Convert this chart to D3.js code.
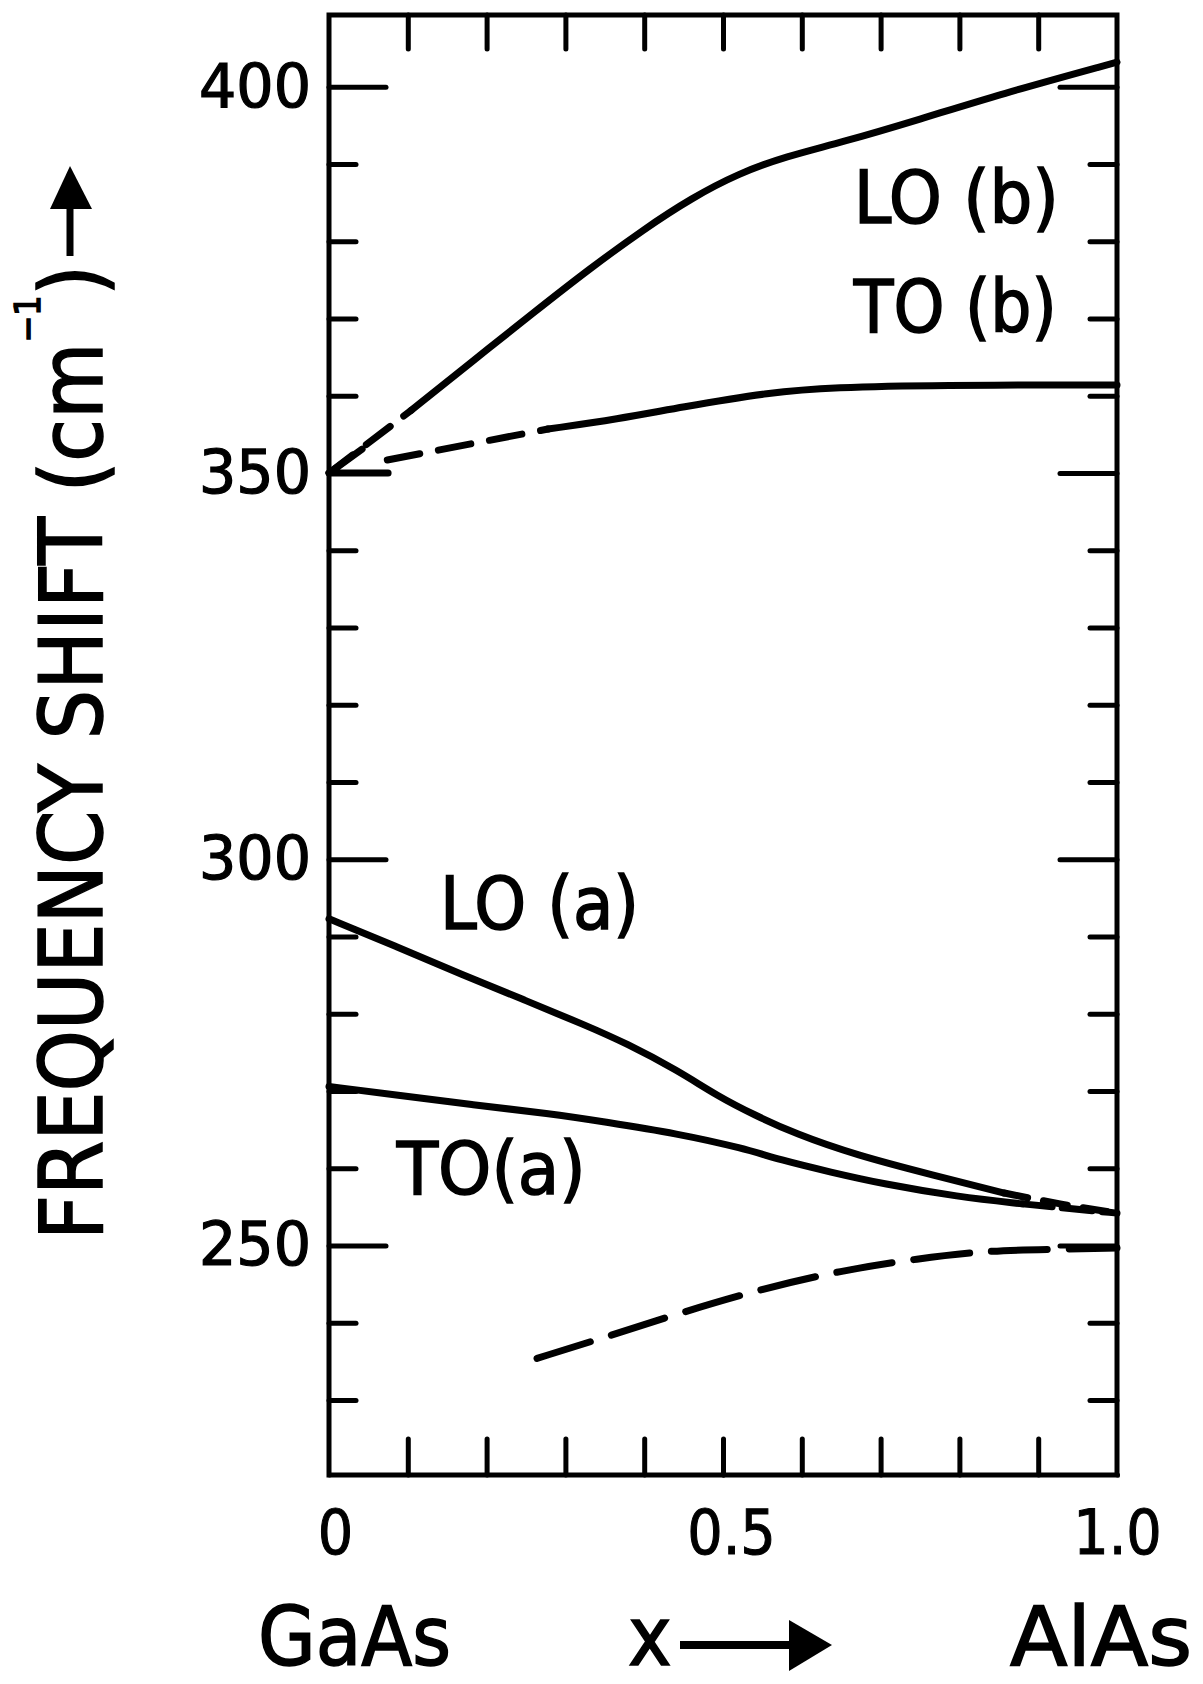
<!DOCTYPE html>
<html>
<head>
<meta charset="utf-8">
<script src="https://cdn.jsdelivr.net/npm/d3@7"></script>
<style>
  body { margin: 0; background: #fff; }
  text { font-family: "Liberation Sans Narrow", "DejaVu Sans Condensed", "Liberation Sans", sans-serif; fill: #000; }
</style>
</head>
<body>
<div id="chart"></div>
<script>
// Al(x)Ga(1-x)As optical phonon frequencies vs composition
const loBDashed = [[0, 350], [0.104, 358.1]];
const loBSolid = [[0.104, 358.1], [0.18, 364.3], [0.26, 370.8], [0.33, 376.4], [0.40, 381.6],
    [0.46, 385.6], [0.52, 388.8], [0.58, 391.0], [0.65, 392.8], [0.75, 395.8],
    [0.85, 399.0], [1.0, 403.2]];
const toBDashed = [[0.074, 351.7], [0.278, 355.7]];
const toBSolid = [[0.278, 355.7], [0.367, 357.0], [0.445, 358.5], [0.562, 360.5], [0.64, 361.1],
    [0.77, 361.4], [1.0, 361.4]];
const loASolid = [[0, 292.3], [0.086, 288.7], [0.17, 285.0], [0.248, 281.8], [0.326, 278.5],
    [0.377, 276.2], [0.442, 272.7], [0.494, 269.3], [0.54, 266.9], [0.591, 264.5],
    [0.669, 261.7], [0.767, 259.1], [0.857, 256.8]];
const loADashed = [[0.857, 256.8], [0.93, 255.3], [1.0, 254.2]];
const toASolid = [[0, 270.6], [0.086, 269.5], [0.183, 268.2], [0.28, 267.1], [0.351, 266.0],
    [0.442, 264.5], [0.526, 262.6], [0.572, 261.1], [0.637, 259.5], [0.702, 258.0],
    [0.799, 256.3], [0.88, 255.4]];
const toADashed = [[0.88, 255.4], [0.94, 254.8], [1.0, 254.2]];
const lowerDashed = [[0.264, 235.4], [0.34, 237.8], [0.437, 241.0], [0.545, 244.3], [0.651, 246.8],
    [0.746, 248.3], [0.841, 249.4], [0.918, 249.5], [1.0, 249.7]];
const arrowHead = [[0.042, 353.1], [0, 350], [0.075, 350.0]];

const yMajor = [250, 300, 350, 400];
const yMinor = [230, 240, 260, 270, 280, 290, 310, 320, 330, 340, 360, 370, 380, 390];
const xMinor = [0.1, 0.2, 0.3, 0.4, 0.5, 0.6, 0.7, 0.8, 0.9];
const xLabels = [0, 0.5, 1.0];

const width = 1203;
const height = 1684;
const margin = { top: 15, right: 86, bottom: 209, left: 329 };
const innerW = width - margin.left - margin.right;
const innerH = height - margin.top - margin.bottom;

const svg = d3.select("#chart")
    .append("svg")
    .attr("width", width)
    .attr("height", height);

const g = svg.append("g")
    .attr("transform", `translate(${margin.left},${margin.top})`);

const x = d3.scaleLinear().domain([0, 1]).range([0, innerW]);
const y = d3.scaleLinear().domain([220.3, 409.3]).range([innerH, 0]);

// frame
g.append("rect")
    .attr("width", innerW)
    .attr("height", innerH)
    .attr("fill", "none")
    .attr("stroke", "#000")
    .attr("stroke-width", 5);

function styleAxis(sel) {
    sel.select(".domain").remove();
    sel.selectAll(".tick line").attr("stroke", "#000").attr("stroke-width", 5).attr("stroke-linecap", "round");
}

// y ticks, both sides, pointing inward
g.append("g").call(d3.axisLeft(y).tickValues(yMinor).tickSize(-27).tickFormat("")).call(styleAxis);
g.append("g").attr("transform", `translate(${innerW},0)`)
    .call(d3.axisRight(y).tickValues(yMinor).tickSize(-27).tickFormat("")).call(styleAxis);
g.append("g").attr("transform", `translate(${innerW},0)`)
    .call(d3.axisRight(y).tickValues(yMajor).tickSize(-57).tickFormat("")).call(styleAxis);

const yAxis = g.append("g")
    .call(d3.axisLeft(y).tickValues(yMajor).tickSize(-57).tickPadding(18).tickFormat(d3.format("d")))
    .call(styleAxis);
yAxis.selectAll("text")
    .attr("font-size", 60)
    .attr("textLength", 112)
    .attr("lengthAdjust", "spacingAndGlyphs")
    .attr("stroke", "#000")
    .attr("stroke-width", 1.2);

// x ticks top and bottom
g.append("g").call(d3.axisTop(x).tickValues(xMinor).tickSize(-34).tickFormat("")).call(styleAxis);
g.append("g").attr("transform", `translate(0,${innerH})`)
    .call(d3.axisBottom(x).tickValues(xMinor).tickSize(-36).tickFormat("")).call(styleAxis);

const xAxis = g.append("g").attr("transform", `translate(0,${innerH})`)
    .call(d3.axisBottom(x).tickValues(xLabels).tickSize(0).tickPadding(35)
        .tickFormat(d => d === 0 ? "0" : d3.format(".1f")(d)))
    .call(styleAxis);
xAxis.selectAll("text").attr("font-size", 62).attr("stroke", "#000").attr("stroke-width", 1);
xAxis.selectAll(".tick").filter(d => d === 0).select("text").attr("dx", 6);
xAxis.selectAll(".tick").filter(d => d === 0.5).select("text").attr("dx", 8);

// curves
const line = d3.line()
    .x(d => x(d[0]))
    .y(d => y(d[1]))
    .curve(d3.curveBasis);

function drawCurve(data, dash) {
    g.append("path")
        .datum(data)
        .attr("d", line)
        .attr("fill", "none")
        .attr("stroke", "#000")
        .attr("stroke-width", 7)
        .attr("stroke-linecap", "round")
        .attr("stroke-dasharray", dash || null);
}

drawCurve(loBSolid);
drawCurve(loBDashed, "30,17");
drawCurve(toBSolid);
drawCurve(toBDashed, "33,19");
drawCurve(loASolid);
drawCurve(loADashed, "24,16");
drawCurve(toASolid);
drawCurve(toADashed, "30,10");
drawCurve(lowerDashed, "56,22");

g.append("path")
    .datum(arrowHead)
    .attr("d", d3.line().x(d => x(d[0])).y(d => y(d[1])))
    .attr("fill", "none")
    .attr("stroke", "#000")
    .attr("stroke-width", 7)
    .attr("stroke-linecap", "round")
    .attr("stroke-linejoin", "round");

// curve labels
const labels = [
    { text: "LO (b)", x: 0.666, y: 382.4, len: 205 },
    { text: "TO (b)", x: 0.666, y: 368.3, len: 203 },
    { text: "LO (a)", x: 0.141, y: 291.0, len: 199 },
    { text: "TO(a)", x: 0.086, y: 256.7, len: 189 }
];
g.selectAll(".curve-label")
    .data(labels)
    .enter().append("text")
    .attr("class", "curve-label")
    .attr("x", d => x(d.x))
    .attr("y", d => y(d.y))
    .attr("font-size", 73)
    .attr("textLength", d => d.len)
    .attr("lengthAdjust", "spacingAndGlyphs")
    .attr("stroke", "#000")
    .attr("stroke-width", 1.5)
    .text(d => d.text);

// y axis title
const yTitle = svg.append("text")
    .attr("transform", "translate(102,1240) rotate(-90)")
    .attr("font-size", 88)
    .attr("textLength", 975)
    .attr("lengthAdjust", "spacingAndGlyphs")
    .attr("stroke", "#000")
    .attr("stroke-width", 1.5);
yTitle.append("tspan").text("FREQUENCY SHIFT (cm");
yTitle.append("tspan").attr("font-size", 36).attr("dy", -62).text("−1");
yTitle.append("tspan").attr("dy", 62).text(")");

svg.append("line")
    .attr("x1", 70).attr("x2", 70)
    .attr("y1", 256).attr("y2", 200)
    .attr("stroke", "#000").attr("stroke-width", 7);
svg.append("path")
    .attr("d", "M70,166 L50,209 L92,209 Z")
    .attr("fill", "#000");

// bottom composition labels
const bottom = svg.append("g")
    .attr("font-size", 82)
    .attr("stroke", "#000")
    .attr("stroke-width", 1.5);
bottom.append("text").attr("x", 258).attr("y", 1665)
    .attr("textLength", 193).attr("lengthAdjust", "spacingAndGlyphs").text("GaAs");
bottom.append("text").attr("x", 628).attr("y", 1665).text("x");
bottom.append("text").attr("x", 1010).attr("y", 1665)
    .attr("textLength", 182).attr("lengthAdjust", "spacingAndGlyphs").text("AlAs");
svg.append("line")
    .attr("x1", 680).attr("x2", 795)
    .attr("y1", 1645).attr("y2", 1645)
    .attr("stroke", "#000").attr("stroke-width", 8);
svg.append("path")
    .attr("d", "M789,1620 L832,1645 L789,1671 Z")
    .attr("fill", "#000");
</script>
</body>
</html>
